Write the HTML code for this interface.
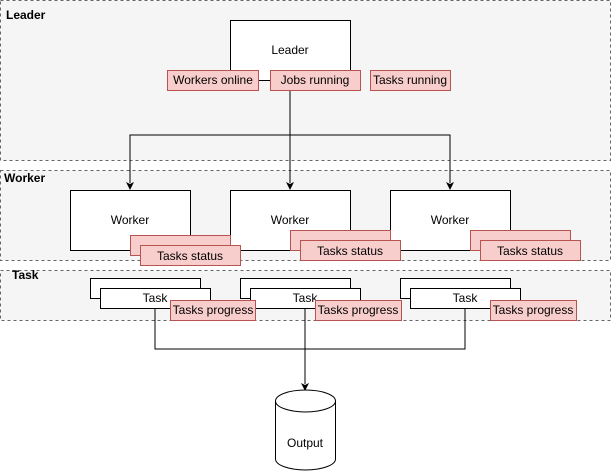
<!DOCTYPE html>
<html><head><style>html,body{margin:0;padding:0;background:#fff}svg{display:block}</style></head><body>
<svg width="611" height="471" viewBox="0 0 611 471" xmlns="http://www.w3.org/2000/svg" font-family="Liberation Sans, Arial, sans-serif" font-size="12">
<g fill="#f5f5f5" stroke="#666" stroke-dasharray="3,3">
<rect x="0.5" y="0.5" width="610" height="160"/>
<rect x="0.5" y="170.5" width="610" height="90"/>
<rect x="0.5" y="270.5" width="610" height="50"/>
</g>
<g font-weight="bold" fill="#000">
<text x="6" y="19">Leader</text>
<text x="4" y="182">Worker</text>
<text x="12" y="279">Task</text>
</g>
<!-- connectors -->
<g stroke="#000" fill="none">
<line x1="258" y1="80" x2="270" y2="80"/>
<polyline points="290,90 290,135"/>
<polyline points="130,183 130,135 450,135 450,183"/>
<line x1="290" y1="135" x2="290" y2="183"/>
<polyline points="155,308 155,349 465,349 465,308"/>
<line x1="305" y1="308" x2="305" y2="384"/>
</g>
<g fill="#000">
<path d="M130,190 l-4,-8 l4,2 l4,-2z"/>
<path d="M290,190 l-4,-8 l4,2 l4,-2z"/>
<path d="M450,190 l-4,-8 l4,2 l4,-2z"/>
<path d="M305,391 l-4,-8 l4,2 l4,-2z"/>
</g>
<!-- leader -->
<rect x="230.5" y="20.5" width="120" height="60" fill="#fff" stroke="#000"/>
<text x="290" y="54" text-anchor="middle">Leader</text>
<g fill="#f8cecc" stroke="#b85450">
<rect x="167.5" y="70.5" width="91" height="20"/>
<rect x="270.5" y="70.5" width="90" height="20"/>
<rect x="370.5" y="70.5" width="80" height="20"/>
</g>
<text x="213" y="84" text-anchor="middle">Workers online</text>
<text x="315" y="84" text-anchor="middle">Jobs running</text>
<text x="410" y="84" text-anchor="middle">Tasks running</text>
<!-- workers -->
<g fill="#fff" stroke="#000">
<rect x="70.5" y="190.5" width="120" height="60"/>
<rect x="230.5" y="190.5" width="120" height="60"/>
<rect x="390.5" y="190.5" width="120" height="60"/>
</g>
<g text-anchor="middle"><text x="130" y="224">Worker</text><text x="290" y="224">Worker</text><text x="450" y="224">Worker</text></g>
<g fill="#f8cecc" stroke="#b85450">
<rect x="130.5" y="235.5" width="100" height="20"/>
<rect x="140.5" y="245.5" width="100" height="20"/>
<rect x="290.5" y="230.5" width="100" height="20"/>
<rect x="300.5" y="240.5" width="100" height="20"/>
<rect x="470.5" y="230.5" width="100" height="20"/>
<rect x="480.5" y="240.5" width="100" height="20"/>
</g>
<g text-anchor="middle"><text x="190" y="260">Tasks status</text><text x="350" y="255">Tasks status</text><text x="530" y="255">Tasks status</text></g>
<!-- tasks -->
<g fill="#fff" stroke="#000">
<rect x="90.5" y="278.5" width="110" height="20"/>
<rect x="100.5" y="288.5" width="110" height="20"/>
<rect x="240.5" y="278.5" width="110" height="20"/>
<rect x="250.5" y="288.5" width="110" height="20"/>
<rect x="400.5" y="278.5" width="110" height="20"/>
<rect x="410.5" y="288.5" width="110" height="20"/>
</g>
<g text-anchor="middle"><text x="155" y="302">Task</text><text x="305" y="302">Task</text><text x="465" y="302">Task</text></g>
<g stroke="#000"><line x1="155" y1="308" x2="155" y2="320"/><line x1="305" y1="308" x2="305" y2="320"/><line x1="465" y1="308" x2="465" y2="320"/></g>
<g fill="#f8cecc" stroke="#b85450">
<rect x="170.5" y="300.5" width="85" height="20"/>
<rect x="315.5" y="300.5" width="86" height="20"/>
<rect x="490.5" y="300.5" width="86" height="20"/>
</g>
<g text-anchor="middle"><text x="213" y="314">Tasks progress</text><text x="358" y="314">Tasks progress</text><text x="533" y="314">Tasks progress</text></g>
<!-- cylinder -->
<path d="M275.5,401 A30,11 0 0 1 335.5,401 L335.5,459 A30,11 0 0 1 275.5,459 Z" fill="#fff" stroke="#000"/>
<path d="M275.5,401 A30,11 0 0 0 335.5,401" fill="none" stroke="#000"/>
<text x="305" y="447" text-anchor="middle">Output</text>
</svg>
</body></html>
